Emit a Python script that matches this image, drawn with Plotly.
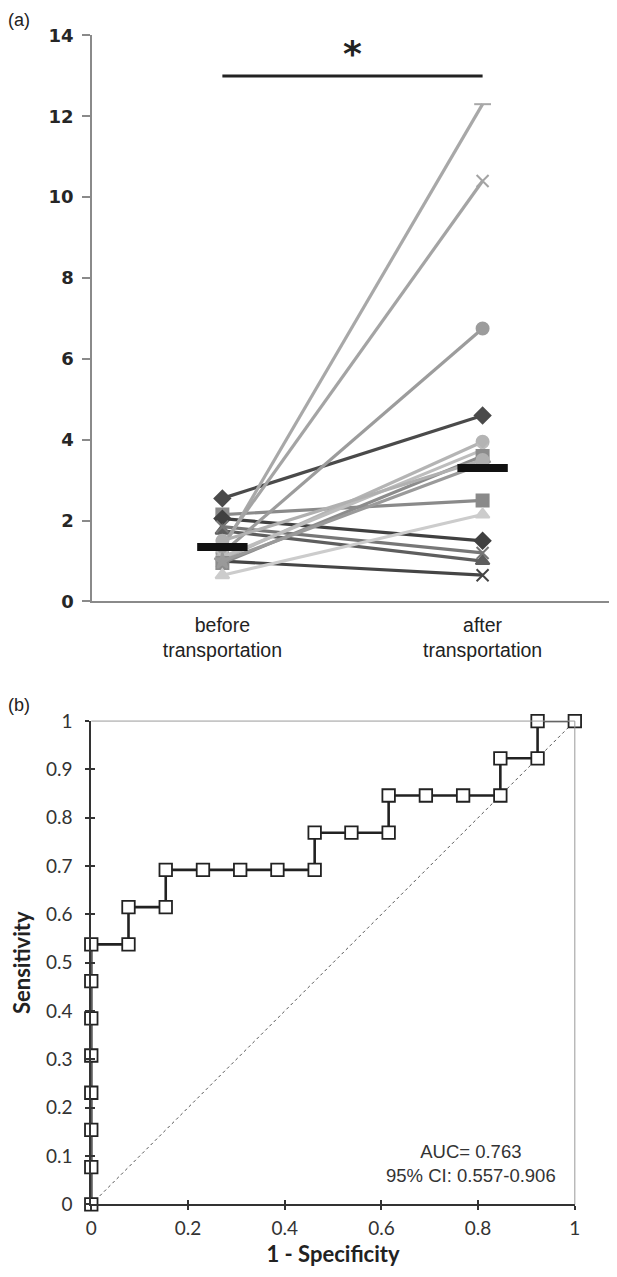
import plotly.graph_objects as go

# ---------------- Panel (a) data ----------------
categories = ["before<br>transportation", "after<br>transportation"]
before_vals = [2.55, 2.15, 2.05, 1.75, 1.85, 1.0, 1.3, 1.4, 1.2, 1.05, 1.1, 0.95, 0.65, 1.0, 1.5]
after_vals = [4.6, 2.5, 1.5, 1.0, 1.2, 0.65, 12.3, 10.4, 6.75, 3.95, 3.75, 3.6, 2.15, 3.4, 3.5]
subject_symbols = ["diamond", "square", "diamond", "triangle-up", "x-thin-open", "x-thin-open",
                   "line-ew-open", "x-thin-open", "circle", "circle", "x-thin-open", "square",
                   "triangle-up", "star", "circle"]
subject_colors = ["#4a4a4a", "#8a8a8a", "#404040", "#5e5e5e", "#777777", "#454545",
                  "#a8a8a8", "#a4a4a4", "#9c9c9c", "#b4b4b4", "#bdbdbd", "#8c8c8c",
                  "#cccccc", "#9a9a9a", "#b0b0b0"]
medians = [1.35, 3.3]
sig_level = 13.0
y_ticks_a = [0, 2, 4, 6, 8, 10, 12, 14]

# ---------------- Panel (b) data ----------------
roc_fpr = [0, 0, 0, 0, 0, 0, 0, 0, 0.077, 0.077, 0.154, 0.154, 0.231, 0.308, 0.385, 0.462,
           0.462, 0.538, 0.615, 0.615, 0.692, 0.769, 0.846, 0.846, 0.923, 0.923, 1.0]
roc_tpr = [0, 0.077, 0.154, 0.231, 0.308, 0.385, 0.462, 0.538, 0.538, 0.615, 0.615, 0.692,
           0.692, 0.692, 0.692, 0.692, 0.769, 0.769, 0.769, 0.846, 0.846, 0.846, 0.846,
           0.923, 0.923, 1.0, 1.0]
diag = [0, 1]
x_ticks_b = [0, 0.2, 0.4, 0.6, 0.8, 1]
x_ticktext_b = ["0", "0.2", "0.4", "0.6", "0.8", "1"]
y_ticks_b = [0, 0.1, 0.2, 0.3, 0.4, 0.5, 0.6, 0.7, 0.8, 0.9, 1]
y_ticktext_b = ["0", "0.1", "0.2", "0.3", "0.4", "0.5", "0.6", "0.7", "0.8", "0.9", "1"]
auc_text = "AUC= 0.763<br>95% CI: 0.557-0.906"

W, H = 617, 1277
# empirical page->screenshot mapping (offset, scale) measured from a previous render
AX, BX = 12.5, 0.9835
AY, BY = 17.5, 0.9854


def px(t):
    return ((t - AX) / BX) / W


def py(t):
    return 1 - ((t - AY) / BY) / H


fig = go.Figure()

# subject lines (panel a)
for i in range(len(before_vals)):
    fig.add_trace(go.Scatter(
        x=[0, 1], y=[before_vals[i], after_vals[i]], mode="lines+markers",
        line=dict(color=subject_colors[i], width=3.2),
        marker=dict(symbol=subject_symbols[i], size=12, color=subject_colors[i],
                    line=dict(color=subject_colors[i], width=2)),
        xaxis="x", yaxis="y", showlegend=False, hoverinfo="skip", cliponaxis=False))

# medians
fig.add_trace(go.Scatter(
    x=[0, 1], y=medians, mode="markers",
    marker=dict(symbol="line-ew", size=36, line=dict(color="#111111", width=8)),
    xaxis="x", yaxis="y", showlegend=False, hoverinfo="skip", cliponaxis=False))

# significance bar
fig.add_trace(go.Scatter(
    x=[0, 1], y=[sig_level, sig_level], mode="lines",
    line=dict(color="#222222", width=3),
    xaxis="x", yaxis="y", showlegend=False, hoverinfo="skip", cliponaxis=False))

# ROC diagonal
fig.add_trace(go.Scatter(
    x=diag, y=diag, mode="lines", line=dict(color="#555555", width=1, dash="dot"),
    xaxis="x2", yaxis="y2", showlegend=False, hoverinfo="skip"))

# ROC curve
fig.add_trace(go.Scatter(
    x=roc_fpr, y=roc_tpr, mode="lines+markers",
    line=dict(color="#222222", width=2.6),
    marker=dict(symbol="square", size=12.5, color="white", line=dict(color="#222222", width=1.8)),
    xaxis="x2", yaxis="y2", showlegend=False, hoverinfo="skip", cliponaxis=False))

# invisible trace for overlay axes (inside half of crossing ticks)
fig.add_trace(go.Scatter(x=[], y=[], xaxis="x3", yaxis="y3", showlegend=False))

tick_font_a = dict(family="DejaVu Sans", size=18, color="#262626", weight="bold")
tick_font_b = dict(family="Lato", size=19, color="#333333")

fig.update_layout(
    width=W, height=H, margin=dict(l=0, r=0, t=0, b=0),
    paper_bgcolor="white", plot_bgcolor="white",
    xaxis=dict(domain=[px(91), px(613)], anchor="y", range=[-0.5, 1.5],
               tickvals=[0, 1], ticktext=categories, ticks="", ticklabelstandoff=5,
               showgrid=False, zeroline=False, showline=True, linecolor="#8a8a8a", linewidth=2,
               tickfont=dict(family="Liberation Sans", size=19.5, color="#222222")),
    yaxis=dict(domain=[py(601), py(33)], anchor="x", range=[0, 14],
               tickvals=y_ticks_a, ticks="outside", ticklen=8, tickcolor="#8a8a8a", tickwidth=2,
               ticklabelstandoff=5,
               showgrid=False, zeroline=False, showline=True, linecolor="#8a8a8a", linewidth=2,
               tickfont=tick_font_a),
    xaxis2=dict(domain=[px(90), px(575)], anchor="y2", range=[0, 1],
                tickvals=x_ticks_b, ticktext=x_ticktext_b, ticks="outside", ticklen=4,
                tickcolor="#333333", tickwidth=1.5, ticklabelstandoff=2,
                showgrid=False, zeroline=False, showline=True, linecolor="#333333", linewidth=2,
                tickfont=tick_font_b,
                title=dict(text="<b>1 - Specificity</b>", standoff=8,
                           font=dict(family="Lato", size=22, color="#222222"))),
    yaxis2=dict(domain=[py(1206), py(721)], anchor="x2", range=[0, 1],
                tickvals=y_ticks_b, ticktext=y_ticktext_b, ticks="outside", ticklen=4,
                tickcolor="#333333", tickwidth=1.5, ticklabelstandoff=9,
                showgrid=False, zeroline=False, showline=True, linecolor="#333333", linewidth=2,
                tickfont=tick_font_b,
                title=dict(text="<b>Sensitivity</b>", standoff=10,
                           font=dict(family="Lato", size=22, color="#222222"))),
    xaxis3=dict(overlaying="x2", anchor="y2", range=[0, 1], tickvals=x_ticks_b,
                ticks="inside", ticklen=4, tickcolor="#333333", tickwidth=1.5,
                showticklabels=False, showgrid=False, zeroline=False, showline=False),
    yaxis3=dict(overlaying="y2", anchor="x2", range=[0, 1], tickvals=y_ticks_b,
                ticks="inside", ticklen=4, tickcolor="#333333", tickwidth=1.5,
                showticklabels=False, showgrid=False, zeroline=False, showline=False),
    shapes=[
        dict(type="line", xref="x2 domain", yref="y2 domain", x0=0, x1=1, y0=1, y1=1,
             line=dict(color="#9a9a9a", width=1)),
        dict(type="line", xref="x2 domain", yref="y2 domain", x0=1, x1=1, y0=0, y1=1,
             line=dict(color="#9a9a9a", width=1)),
    ],
    annotations=[
        dict(text="*", x=0.5, y=sig_level, xref="x", yref="y", yanchor="bottom", yshift=0,
             showarrow=False, font=dict(family="DejaVu Sans", size=36, color="#222222", weight="bold")),
        dict(text="(a)", x=px(4), y=py(18), xref="paper", yref="paper", xanchor="left",
             yanchor="middle", showarrow=False,
             font=dict(family="Liberation Sans", size=18, color="#222222")),
        dict(text="(b)", x=px(4), y=py(705), xref="paper", yref="paper", xanchor="left",
             yanchor="middle", showarrow=False,
             font=dict(family="Liberation Sans", size=18, color="#222222")),
        dict(text=auc_text, x=0.785, y=0.085, xref="x2", yref="y2", xanchor="center",
             yanchor="middle", showarrow=False, align="center",
             font=dict(family="Liberation Sans", size=18.5, color="#333333")),
    ],
)

fig.write_html("out.html")
